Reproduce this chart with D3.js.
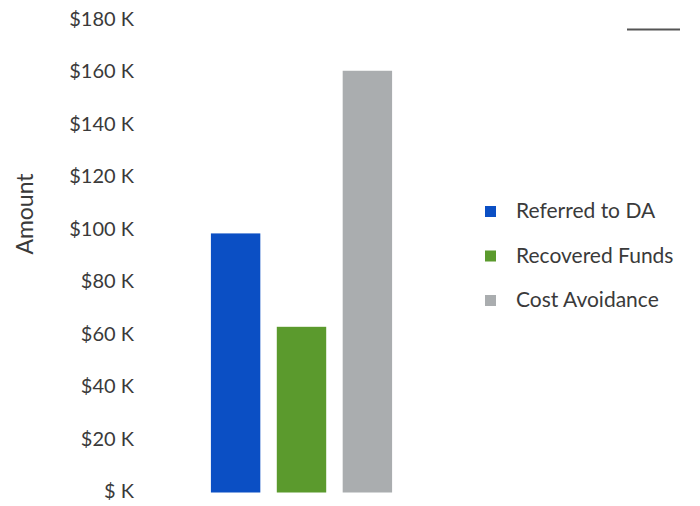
<!DOCTYPE html>
<html>
<head>
<meta charset="utf-8">
<script src="https://cdn.jsdelivr.net/npm/d3@7"></script>
<style>
  body { margin: 0; background: #fff; }
  text { font-family: Lato, "Open Sans", sans-serif; fill: #3a3a3a; }
</style>
</head>
<body>
<div id="chart"></div>
<script>
// chart values
const categories = ["Referred to DA", "Recovered Funds", "Cost Avoidance"];
const amounts = [98000, 62400, 160000];
const colors = ["#0b4fc4", "#5b9a2d", "#aaadaf"];
const yTicks = [0, 20000, 40000, 60000, 80000, 100000, 120000, 140000, 160000, 180000];

const width = 700;
const height = 506;

const svg = d3.select("#chart")
  .append("svg")
  .attr("width", width)
  .attr("height", height);

// scales
const y = d3.scaleLinear().domain([0, 180000]).range([490.5, 18.3]);
const x = d3.scaleBand()
  .domain(categories)
  .range([203, 400])
  .paddingInner(0.25)
  .paddingOuter(0.12);

// y axis (labels only)
const yAxis = d3.axisLeft(y)
  .tickValues(yTicks)
  .tickSize(0)
  .tickPadding(0)
  .tickFormat((d) => d === 0 ? "$ K" : "$" + d / 1000 + " K");

svg.append("g")
  .attr("transform", "translate(134,0)")
  .call(yAxis)
  .call((g) => g.select(".domain").remove())
  .selectAll("text")
  .attr("dy", "0.35em")
  .style("font-size", "20px")
  .style("fill", "#3a3a3a");

// axis title
svg.append("text")
  .attr("transform", "translate(33,214) rotate(-90)")
  .attr("text-anchor", "middle")
  .style("font-size", "23px")
  .text("Amount");

// bars
svg.append("g")
  .selectAll("rect")
  .data(categories)
  .enter()
  .append("rect")
  .attr("x", (d) => x(d))
  .attr("width", x.bandwidth())
  .attr("y", (d, i) => y(amounts[i]))
  .attr("height", (d, i) => y(0) - y(amounts[i]) + 2)
  .attr("fill", (d, i) => colors[i]);

// legend
const legend = svg.append("g").attr("transform", "translate(485,211)");
const item = legend.selectAll("g")
  .data(categories)
  .enter()
  .append("g")
  .attr("transform", (d, i) => `translate(0, ${i * 44.5})`);

item.append("rect")
  .attr("x", 0)
  .attr("y", -5)
  .attr("width", 11)
  .attr("height", 11)
  .attr("fill", (d, i) => colors[i]);

item.append("text")
  .attr("x", 31)
  .attr("dy", "0.35em")
  .style("font-size", "21px")
  .text((d) => d);

// small mark in the top right corner
svg.append("line")
  .attr("x1", 627).attr("x2", 680)
  .attr("y1", 29.5).attr("y2", 29.5)
  .attr("stroke", "#555")
  .attr("stroke-width", 2);
</script>
</body>
</html>
